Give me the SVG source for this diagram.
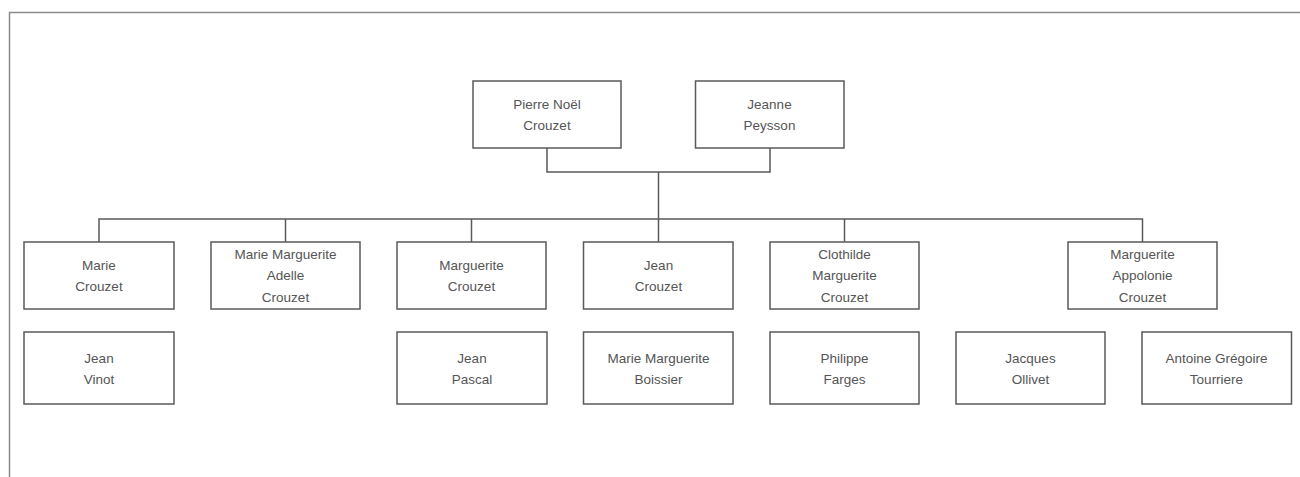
<svg xmlns="http://www.w3.org/2000/svg" width="1300" height="477" viewBox="0 0 1300 477">
<style>
.box{fill:#fff;stroke:#5a5a5a;stroke-width:1.5}
.t{font-family:"Liberation Sans",Arial,sans-serif;font-size:13.5px;fill:#555;text-anchor:middle;dominant-baseline:central}
.c{fill:none;stroke:#5a5a5a;stroke-width:1.5}
.frame{fill:none;stroke:#8a8a8a;stroke-width:1.5}
</style>
<rect width="1300" height="477" fill="#fff"/>
<path class="frame" d="M9.5,477 V12.5 H1300"/>
<g id="connectors">
<path class="c" d="M547,148 V172 H770 V148"/>
<path class="c" d="M658.5,172 V219"/>
<path class="c" d="M99,242 V219 H1142.5 V242"/>
<path class="c" d="M285.5,219 V242"/>
<path class="c" d="M471.5,219 V242"/>
<path class="c" d="M658.5,219 V242"/>
<path class="c" d="M844.5,219 V242"/>
</g>
<g id="pierre"><rect class="box" x="473" y="81" width="148" height="67"/><text class="t" x="547" y="104">Pierre Noël</text><text class="t" x="547" y="125">Crouzet</text></g>
<g id="jeanne"><rect class="box" x="695.5" y="81" width="148.5" height="67"/><text class="t" x="769.5" y="104">Jeanne</text><text class="t" x="769.5" y="125">Peysson</text></g>
<g id="marie"><rect class="box" x="24" y="242" width="150" height="67"/><text class="t" x="99" y="265">Marie</text><text class="t" x="99" y="286">Crouzet</text></g>
<g id="mma"><rect class="box" x="211" y="242" width="149" height="67"/><text class="t" x="285.5" y="254">Marie Marguerite</text><text class="t" x="285.5" y="275.5">Adelle</text><text class="t" x="285.5" y="297">Crouzet</text></g>
<g id="marguerite"><rect class="box" x="397" y="242" width="149" height="67"/><text class="t" x="471.5" y="265">Marguerite</text><text class="t" x="471.5" y="286">Crouzet</text></g>
<g id="jean"><rect class="box" x="583.5" y="242" width="149.5" height="67"/><text class="t" x="658.5" y="265">Jean</text><text class="t" x="658.5" y="286">Crouzet</text></g>
<g id="clothilde"><rect class="box" x="770" y="242" width="149" height="67"/><text class="t" x="844.5" y="254">Clothilde</text><text class="t" x="844.5" y="275.5">Marguerite</text><text class="t" x="844.5" y="297">Crouzet</text></g>
<g id="ma"><rect class="box" x="1068" y="242" width="149" height="67"/><text class="t" x="1142.5" y="254">Marguerite</text><text class="t" x="1142.5" y="275.5">Appolonie</text><text class="t" x="1142.5" y="297">Crouzet</text></g>
<g id="vinot"><rect class="box" x="24" y="332" width="150" height="72"/><text class="t" x="99" y="358">Jean</text><text class="t" x="99" y="379">Vinot</text></g>
<g id="pascal"><rect class="box" x="397" y="332" width="150" height="72"/><text class="t" x="472" y="358">Jean</text><text class="t" x="472" y="379">Pascal</text></g>
<g id="boissier"><rect class="box" x="583.5" y="332" width="149.5" height="72"/><text class="t" x="658.5" y="358">Marie Marguerite</text><text class="t" x="658.5" y="379">Boissier</text></g>
<g id="farges"><rect class="box" x="770" y="332" width="149" height="72"/><text class="t" x="844.5" y="358">Philippe</text><text class="t" x="844.5" y="379">Farges</text></g>
<g id="ollivet"><rect class="box" x="956" y="332" width="149" height="72"/><text class="t" x="1030.5" y="358">Jacques</text><text class="t" x="1030.5" y="379">Ollivet</text></g>
<g id="tourriere"><rect class="box" x="1142" y="332" width="149.5" height="72"/><text class="t" x="1216.5" y="358">Antoine Grégoire</text><text class="t" x="1216.5" y="379">Tourriere</text></g>
</svg>
